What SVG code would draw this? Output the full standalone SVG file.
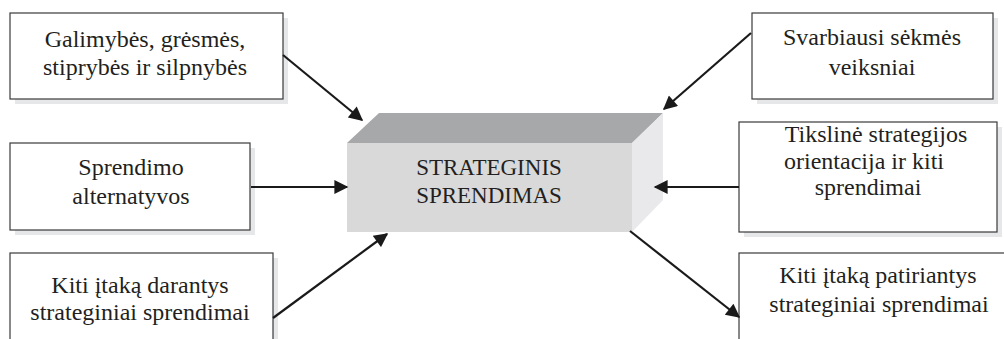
<svg xmlns="http://www.w3.org/2000/svg" width="1004" height="339" viewBox="0 0 1004 339">
<defs>
<style>
.shadow{fill:#e6e7e8;stroke:none}
.box{fill:#ffffff;stroke:#3a3a3a;stroke-width:1.2}
.t{font-family:"Liberation Serif","Times New Roman",serif;font-size:24px;fill:#231f20;text-anchor:middle}
.tc{font-family:"Liberation Serif","Times New Roman",serif;font-size:23px;fill:#231f20;text-anchor:middle}
.conn{stroke:#1a1a1a;stroke-width:2.2;fill:none;marker-end:url(#ah)}
</style>
<marker id="ah" viewBox="0 0 10 10" refX="9" refY="5" markerUnits="userSpaceOnUse" markerWidth="16" markerHeight="14" orient="auto">
<path d="M0,0 L10,5 L0,10 Z" fill="#1a1a1a"/>
</marker>
</defs>
<rect width="1004" height="339" fill="#ffffff"/>

<g id="node-galimybes">
<rect class="shadow" x="15" y="18" width="273" height="86"/>
<rect class="box" x="10" y="13" width="273" height="86"/>
<text class="t" x="145" y="47">Galimybės, grėsmės,</text>
<text class="t" x="145" y="75">stiprybės ir silpnybės</text>
</g>

<g id="node-sprendimo">
<rect class="shadow" x="15" y="148" width="240" height="87"/>
<rect class="box" x="10" y="143" width="240" height="87"/>
<text class="t" x="131" y="175">Sprendimo</text>
<text class="t" x="131" y="204">alternatyvos</text>
</g>

<g id="node-kiti-darantys">
<rect class="shadow" x="15" y="258" width="263" height="90"/>
<rect class="box" x="10" y="253" width="263" height="95"/>
<text class="t" x="140" y="293">Kiti įtaką darantys</text>
<text class="t" x="140" y="320">strateginiai sprendimai</text>
</g>

<g id="node-svarbiausi">
<rect class="shadow" x="757" y="18" width="241" height="86"/>
<rect class="box" x="752" y="13" width="241" height="86"/>
<text class="t" x="872" y="45">Svarbiausi sėkmės</text>
<text class="t" x="872" y="75">veiksniai</text>
</g>

<g id="node-tiksline">
<rect class="shadow" x="744" y="127" width="258" height="110"/>
<rect class="box" x="739" y="122" width="258" height="110"/>
<text class="t" x="876" y="142">Tikslinė strategijos</text>
<text class="t" x="864" y="169">orientacija ir kiti</text>
<text class="t" x="868" y="195">sprendimai</text>
</g>

<g id="node-kiti-patiriantys">
<rect class="box" x="739" y="253" width="280" height="95"/>
<text class="t" x="878" y="283">Kiti įtaką patiriantys</text>
<text class="t" x="879" y="312">strateginiai sprendimai</text>
</g>

<g id="node-strateginis">
<polygon points="347,143 379,113 663,113 632,143" fill="#a7a8aa"/>
<polygon points="632,143 663,113 663,200 632,232" fill="#e9e9eb"/>
<rect x="347" y="143" width="285" height="89" fill="#d9d9da"/>
<text class="tc" x="489" y="175">STRATEGINIS</text>
<text class="tc" x="489" y="203">SPRENDIMAS</text>
</g>

<g id="connectors">
<line class="conn" x1="283" y1="55" x2="362" y2="120"/>
<line class="conn" x1="751" y1="33" x2="664" y2="109"/>
<line class="conn" x1="251" y1="187" x2="347" y2="187"/>
<line class="conn" x1="739" y1="187" x2="655" y2="187"/>
<line class="conn" x1="273" y1="318" x2="387" y2="234"/>
<line class="conn" x1="630" y1="231" x2="739" y2="317"/>
</g>
</svg>
